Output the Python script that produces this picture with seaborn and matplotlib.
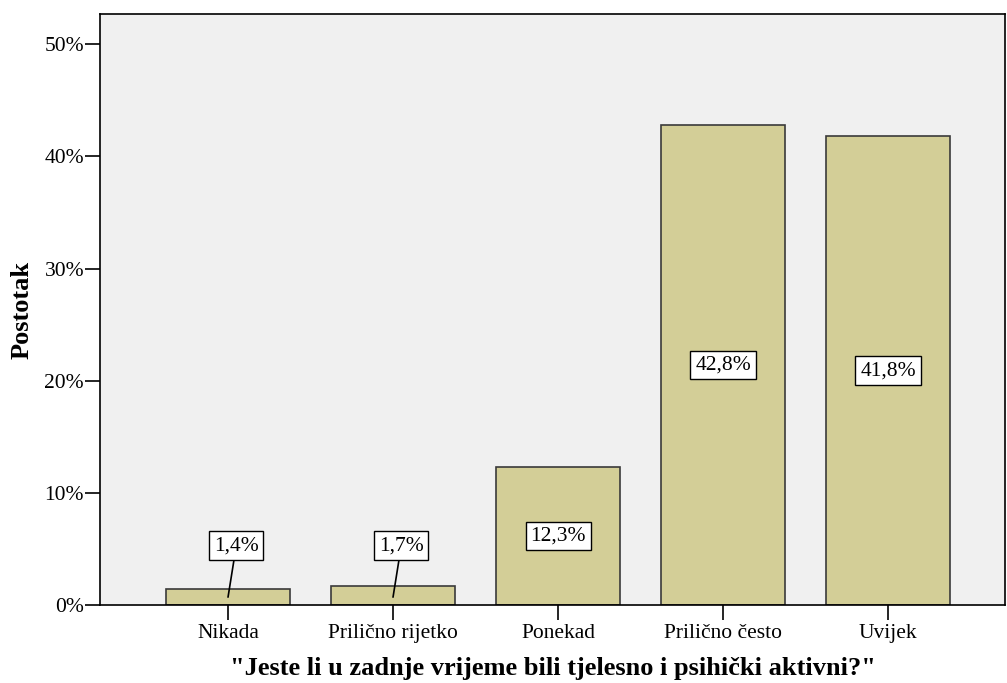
import seaborn as sns
import matplotlib.pyplot as plt
import pandas as pd
from matplotlib.ticker import FuncFormatter

categories = ["Nikada", "Prilično rijetko", "Ponekad", "Prilično često", "Uvijek"]
percent = [1.4, 1.7, 12.3, 42.8, 41.8]
labels = ["1,4%", "1,7%", "12,3%", "42,8%", "41,8%"]

df = pd.DataFrame({"odgovor": categories, "postotak": percent})

sns.set_style("ticks")
plt.rcParams["font.family"] = ["Liberation Serif", "DejaVu Serif"]
plt.rcParams["text.color"] = "black"
plt.rcParams["axes.labelcolor"] = "black"
plt.rcParams["xtick.color"] = "black"
plt.rcParams["ytick.color"] = "black"

fig = plt.figure(figsize=(10.07, 6.83), dpi=100)
ax = fig.add_axes([0.0993, 0.1142, 0.8987, 0.8653])
ax.set_facecolor("#f0f0f0")

sns.barplot(data=df, x="odgovor", y="postotak", color="#d3ce97", width=0.75,
            edgecolor="#3a3a3a", linewidth=1.2, saturation=1, ax=ax)

ax.set_xlim(-0.776, 4.709)
ax.set_ylim(0, 52.7)
ax.set_yticks([0, 10, 20, 30, 40, 50])
ax.yaxis.set_major_formatter(FuncFormatter(lambda v, p: f"{v:.0f}%"))
ax.tick_params(axis="both", labelsize=15.5, length=10.5, width=1.2,
               color="black", labelcolor="black", pad=1)
ax.tick_params(axis="x", pad=3)

for side in ["left", "bottom", "top", "right"]:
    ax.spines[side].set_color("black")
    ax.spines[side].set_linewidth(1.2)

box = dict(boxstyle="square,pad=0.22", facecolor="white", edgecolor="black", linewidth=1)
for i, (v, lab) in enumerate(zip(percent, labels)):
    if v < 5:
        ax.annotate(lab, xy=(i, 0.7), xytext=(i + 0.05, 5.3),
                    ha="center", va="center", fontsize=15.5, bbox=box,
                    arrowprops=dict(arrowstyle="-", color="black", lw=1.2,
                                    shrinkA=0, shrinkB=0))
    else:
        ax.text(i, v / 2, lab, ha="center", va="center", fontsize=15.5, bbox=box)

ax.set_xlabel('"Jeste li u zadnje vrijeme bili tjelesno i psihički aktivni?"',
              fontsize=19, fontweight="bold", labelpad=10)
ax.set_ylabel("Postotak", fontsize=19, fontweight="bold", labelpad=8)

fig.savefig("out.png", dpi=100)
